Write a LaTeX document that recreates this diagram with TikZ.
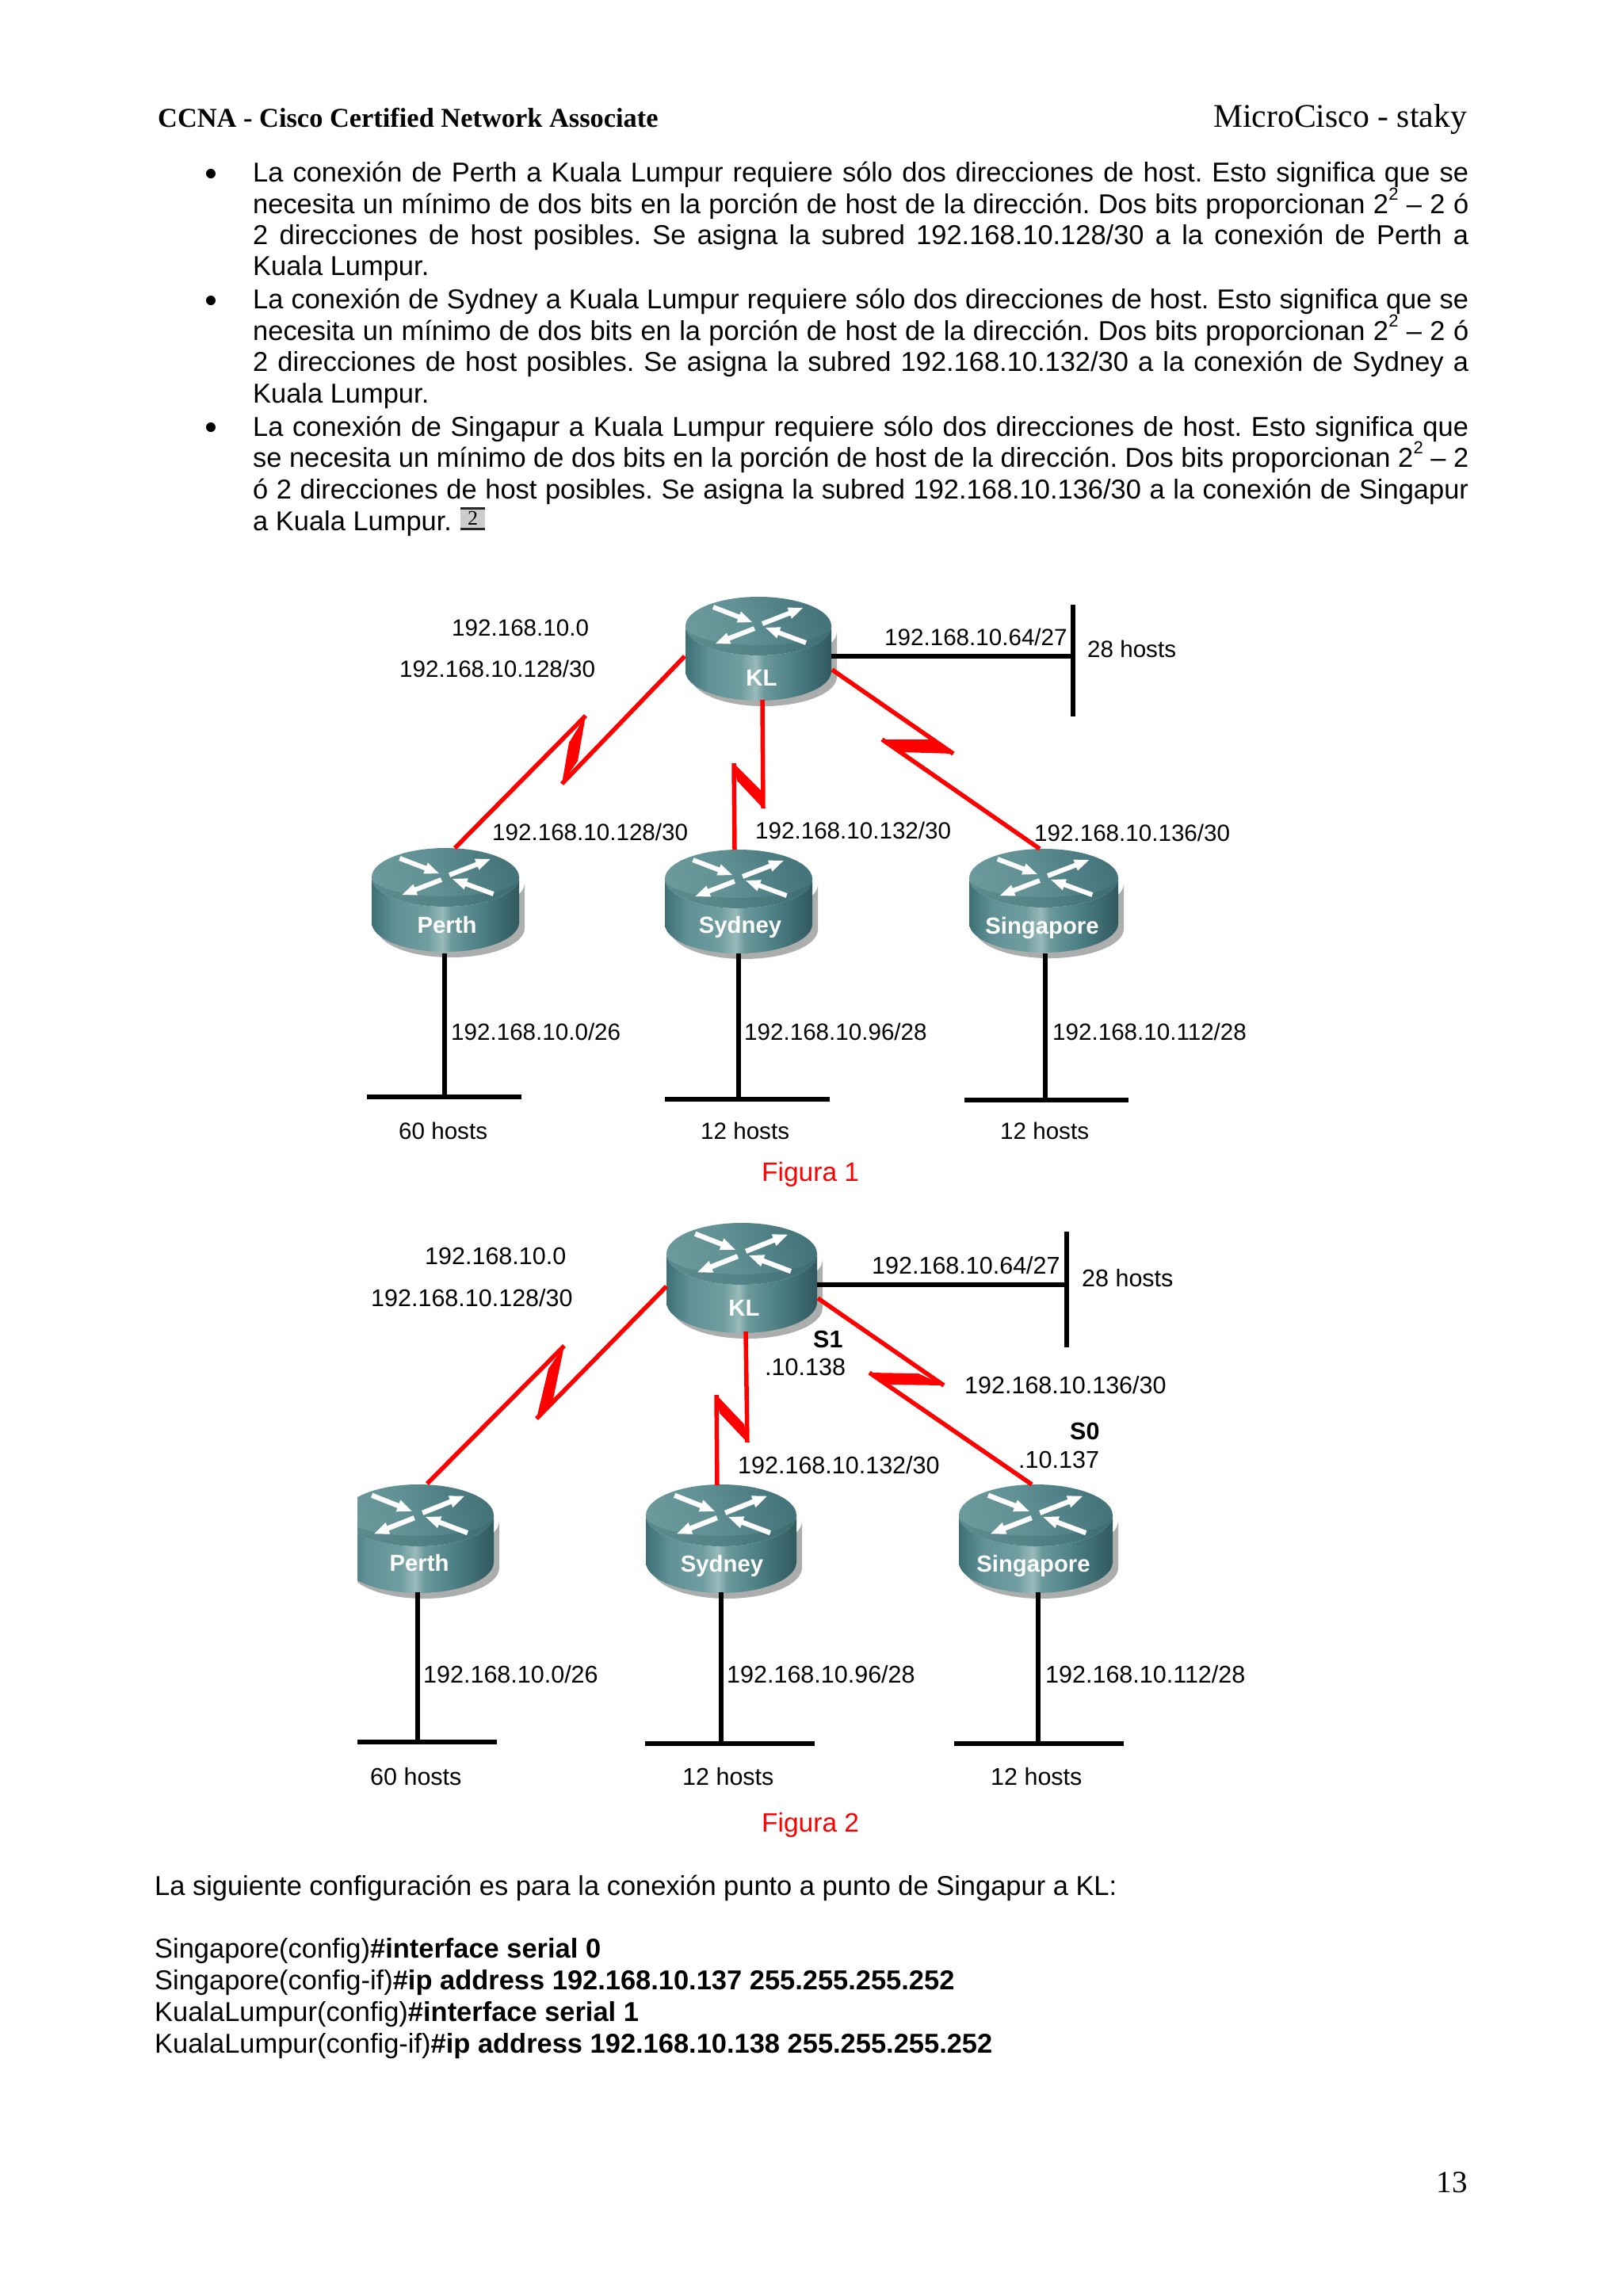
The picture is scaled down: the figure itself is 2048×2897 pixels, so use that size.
\documentclass[tikz,border=0pt]{standalone}
\usepackage{fontspec}
\setmainfont{Liberation Sans}
\newfontfamily\timesf{Liberation Serif}
\pgfdeclarehorizontalshading{routerside}{100bp}{
 rgb(0bp)=(.24,.44,.46);
 rgb(25bp)=(.24,.44,.46);
 rgb(33bp)=(.38,.57,.59);
 rgb(44bp)=(.44,.62,.63);
 rgb(49bp)=(.60,.73,.73);
 rgb(52bp)=(.42,.60,.61);
 rgb(62bp)=(.30,.50,.52);
 rgb(75bp)=(.19,.35,.37);
 rgb(100bp)=(.19,.35,.37)}
\pgfdeclarehorizontalshading{routertop}{100bp}{
 rgb(0bp)=(.42,.60,.61);
 rgb(25bp)=(.42,.60,.61);
 rgb(45bp)=(.38,.57,.58);
 rgb(60bp)=(.32,.51,.53);
 rgb(75bp)=(.27,.46,.48);
 rgb(100bp)=(.27,.46,.48)}
\definecolor{rshadow}{RGB}{172,174,174}
\definecolor{rfront}{RGB}{40,85,90}
\tikzset{
 bodytext/.style={anchor=base west,inner sep=0pt,font=\fontsize{34.45}{40}\selectfont},
 lab/.style={anchor=base west,inner sep=0pt,font=\fontsize{29.6}{34}\selectfont},
 labb/.style={anchor=base west,inner sep=0pt,font=\fontsize{30.5}{34}\selectfont},
 labbold/.style={anchor=base west,inner sep=0pt,font=\fontsize{30.5}{34}\selectfont\bfseries},
 fig/.style={anchor=base west,inner sep=0pt,text=red,font=\fontsize{33.5}{40}\selectfont},
 rlabel/.style={inner sep=0pt,text=white,font=\fontsize{29.3}{34}\selectfont\bfseries},
 lan/.style={draw=black,line width=5.2pt},
 serial/.style={draw=red,line width=5.5pt},
 wedge/.style={fill=red,draw=none},
 arrowpoly/.style={fill=white,draw=none}
}
% #1 name, #2 cx, #3 yc, #4 rx, #5 ry, #6 h, #7 label, #8 lx, #9 ly
\newcommand{\router}[9]{%
 \begin{scope}[shift={(#2+7,#3+7)}]
  \fill[rshadow] (-#4,0) -- (-#4,#6) arc[start angle=180,end angle=0,x radius=#4,y radius=#5] -- (#4,0) arc[start angle=0,end angle=180,x radius=#4,y radius=#5] -- cycle;
 \end{scope}
 \begin{scope}[shift={(#2,#3)}]
  \shade[shading=routerside] (-#4,0) -- (-#4,#6) arc[start angle=180,end angle=0,x radius=#4,y radius=#5] -- (#4,0) arc[start angle=0,end angle=180,x radius=#4,y radius=#5] -- cycle;
  \shade[shading=routertop,shading angle=20] (0,0) ellipse[x radius=#4,y radius=#5];
  \fill[rfront,opacity=.22] (-#4,0) arc[start angle=180,end angle=0,x radius=#4,y radius=#5] arc[start angle=0,end angle=180,x radius=#4,y radius=#5-13] -- cycle;
  \begin{scope}[xscale=#4/92,yscale=#5/37]
   \fill[arrowpoly] (-55.9,-26.8)--(-23.6,-14.3)--(-22,-18.5)--(-8,-5)--(-27.4,-4.5)--(-25.8,-8.7)--(-58.1,-21.2)--cycle;
   \fill[arrowpoly] (3.9,-5.8)--(38.2,-19.2)--(36.6,-23.4)--(56,-23)--(42,-9.4)--(40.4,-13.6)--(6.1,-.2)--cycle;
   \fill[arrowpoly] (-6.1,.2)--(-38.4,12.7)--(-40,8.5)--(-54,22)--(-34.6,22.5)--(-36.2,18.3)--(-3.9,5.8)--cycle;
   \fill[arrowpoly] (9,2)--(28.5,1.3)--(26.9,5.5)--(61,18.2)--(59,23.8)--(24.9,11.1)--(23.3,15.3)--cycle;
  \end{scope}
 \end{scope}
 \node[rlabel] (#1) at (#8,#9) {#7};
}
% serial link with lightning bolt: #1 a, #2 tip1, #3 shoulder1, #4 tip2, #5 shoulder2, #6 b
\newcommand{\seriallink}[6]{%
 \fill[wedge] (#2) -- (#3) -- (#4) -- (#5) -- cycle;
 \draw[serial] (#1) -- (#2);
 \draw[serial] (#4) -- (#6);
}
\newcommand{\supII}{\raisebox{17pt}{\fontsize{22}{24}\selectfont 2}}
\newcommand{\jl}[1]{\makebox[1534pt][s]{#1}}
\frenchspacing
\begin{document}
\begin{tikzpicture}[x=1pt,y=-1pt]
\useasboundingbox (0,0) rectangle (2048,2897);
\fill[white] (0,0) rectangle (2048,2897);

% header
\node[anchor=base west,inner sep=0pt,font=\timesf\bfseries\fontsize{34.4}{40}\selectfont] (hl) at (199,160) {CCNA - Cisco Certified Network Associate};
\node[anchor=base west,inner sep=0pt,font=\timesf\fontsize{41.7}{46}\selectfont] (hr) at (1531,160) {MicroCisco - staky};

% bullets
\fill (266,219) circle (6);
\fill (266,379) circle (6);
\fill (266,539) circle (6);

% body
\node[bodytext] (b1) at (319,229) {\jl{La conexión de Perth a Kuala Lumpur requiere sólo dos direcciones de host. Esto significa que se}};
\node[bodytext] (b2) at (319,269) {\jl{necesita un mínimo de dos bits en la porción de host de la dirección. Dos bits proporcionan 2\supII{} – 2 ó}};
\node[bodytext] (b3) at (319,308) {\jl{2 direcciones de host posibles. Se asigna la subred 192.168.10.128/30 a la conexión de Perth a}};
\node[bodytext] (b4) at (319,347) {Kuala Lumpur.};
\node[bodytext] (b5) at (319,389) {\jl{La conexión de Sydney a Kuala Lumpur requiere sólo dos direcciones de host. Esto significa que se}};
\node[bodytext] (b6) at (319,429) {\jl{necesita un mínimo de dos bits en la porción de host de la dirección. Dos bits proporcionan 2\supII{} – 2 ó}};
\node[bodytext] (b7) at (319,468) {\jl{2 direcciones de host posibles. Se asigna la subred 192.168.10.132/30 a la conexión de Sydney a}};
\node[bodytext] (b8) at (319,508) {Kuala Lumpur.};
\node[bodytext] (b9) at (319,550) {\jl{La conexión de Singapur a Kuala Lumpur requiere sólo dos direcciones de host. Esto significa que}};
\node[bodytext] (b10) at (319,589) {\jl{se necesita un mínimo de dos bits en la porción de host de la dirección. Dos bits proporcionan 2\supII{} – 2}};
\node[bodytext] (b11) at (319,629) {\jl{ó 2 direcciones de host posibles. Se asigna la subred 192.168.10.136/30 a la conexión de Singapur}};
\node[bodytext] (b12) at (319,669) {a Kuala Lumpur.};
\fill[black!20] (581,640) rectangle (612,669);
\fill[black!85] (581,640) rectangle (612,643);
\fill[black!85] (581,666) rectangle (612,669);
\node[inner sep=0pt,font=\timesf\fontsize{26}{28}\selectfont] (ref) at (596.5,654) {2};

% ---------- Figure 1 ----------
\router{klA}{957}{790}{92}{37}{57}{KL}{961}{855}
\router{peA}{562}{1107}{93}{37}{57}{Perth}{564}{1167}
\router{syA}{932}{1109}{93}{37}{57}{Sydney}{934}{1170}
\router{siA}{1317}{1108}{94}{37}{57}{Singapore}{1315}{1171}

\coordinate (klAw) at (864,828);
\coordinate (klAs) at (962,883);
\coordinate (klAe) at (1049,828);
\coordinate (klAse) at (1050,845);
\coordinate (peAn) at (574,1070);
\coordinate (syAn) at (927,1072);
\coordinate (siAn) at (1312,1071);
\coordinate (peAs) at (561,1203);
\coordinate (syAs) at (932,1203);
\coordinate (siAs) at (1319,1203);
\coordinate (barAt) at (1354,763);
\coordinate (barAb) at (1354,904);
\coordinate (barAm) at (1354,828);

\draw[lan] (klAe) -- (barAm);
\draw[lan] (barAt) -- (barAb);
\seriallink{peAn}{739,903}{718,937}{709,989}{729,960}{klAw}
\seriallink{klAs}{963,1020}{960,997}{926,963}{930,985}{syAn}
\seriallink{klAse}{1203,951}{1178,933}{1113,933}{1138,949}{siAn}
\draw[lan] (peAs) -- (561,1384);
\draw[lan] (463,1384) -- (658,1384);
\draw[lan] (syAs) -- (932,1387);
\draw[lan] (839,1387) -- (1047,1387);
\draw[lan] (siAs) -- (1319,1388);
\draw[lan] (1217,1388) -- (1424,1388);

\node[lab] (a1) at (570,802) {192.168.10.0};
\node[lab] (a2) at (504,854) {192.168.10.128/30};
\node[lab] (a3) at (621,1060) {192.168.10.128/30};
\node[lab] (a4) at (953,1058) {192.168.10.132/30};
\node[lab] (a5) at (1305,1061) {192.168.10.136/30};
\node[lab] (a6) at (1116,814) {192.168.10.64/27};
\node[lab] (a7) at (1372,829) {28 hosts};
\node[lab] (a8) at (569,1312) {192.168.10.0/26};
\node[lab] (a9) at (939,1312) {192.168.10.96/28};
\node[lab] (a10) at (1328,1312) {192.168.10.112/28};
\node[lab] (a11) at (503,1437) {60 hosts};
\node[lab] (a12) at (884,1437) {12 hosts};
\node[lab] (a13) at (1262,1437) {12 hosts};
\node[fig] (f1) at (961,1490) {Figura 1};

% ---------- Figure 2 ----------
\router{klB}{936}{1582}{95}{39}{61}{KL}{939}{1650}
\begin{scope}
 \clip (451,1850) rectangle (700,2050);
 \router{peB}{528}{1912}{95}{39}{59}{Perth}{529}{1972}
\end{scope}
\router{syB}{910}{1912}{95}{39}{59}{Sydney}{911}{1976}
\router{siB}{1307}{1912}{97}{39}{59}{Singapore}{1304}{1976}

\coordinate (klBw) at (841,1623);
\coordinate (klBs) at (941,1680);
\coordinate (klBe) at (1031,1621);
\coordinate (klBse) at (1032,1638);
\coordinate (peBn) at (539,1872);
\coordinate (syBn) at (905,1874);
\coordinate (siBn) at (1302,1873);
\coordinate (peBs) at (527,2009);
\coordinate (syBs) at (910,2009);
\coordinate (siBs) at (1310,2009);
\coordinate (barBt) at (1346,1554);
\coordinate (barBb) at (1346,1700);
\coordinate (barBm) at (1346,1621);

\draw[lan] (klBe) -- (barBm);
\draw[lan] (barBt) -- (barBb);
\seriallink{peBn}{712,1698}{692,1727}{677,1790}{698,1765}{klBw}
\seriallink{klBs}{943,1820}{939,1797}{904,1760}{908,1783}{syBn}
\seriallink{klBse}{1191,1748}{1159,1733}{1097,1732}{1124,1747}{siBn}
\draw[lan] (peBs) -- (527,2198);
\draw[lan] (451,2198) -- (627,2198);
\draw[lan] (syBs) -- (910,2200);
\draw[lan] (814,2200) -- (1028,2200);
\draw[lan] (siBs) -- (1310,2200);
\draw[lan] (1204,2200) -- (1418,2200);

\node[labb] (c1) at (536,1595) {192.168.10.0};
\node[labb] (c2) at (468,1648) {192.168.10.128/30};
\node[labb] (c3) at (1100,1607) {192.168.10.64/27};
\node[labb] (c4) at (1365,1623) {28 hosts};
\node[labbold] (c5) at (1026,1700) {S1};
\node[labb] (c6) at (965,1735) {.10.138};
\node[labb] (c7) at (1217,1758) {192.168.10.136/30};
\node[labbold] (c8) at (1350,1816) {S0};
\node[labb] (c9) at (1285,1852) {.10.137};
\node[labb] (c10) at (931,1859) {192.168.10.132/30};
\node[labb] (c11) at (534,2123) {192.168.10.0/26};
\node[labb] (c12) at (917,2123) {192.168.10.96/28};
\node[labb] (c13) at (1319,2123) {192.168.10.112/28};
\node[labb] (c14) at (467,2252) {60 hosts};
\node[labb] (c15) at (861,2252) {12 hosts};
\node[labb] (c16) at (1250,2252) {12 hosts};
\node[fig] (f2) at (961,2311) {Figura 2};

% ---------- Bottom text ----------
\node[bodytext] (d1) at (195,2391) {La siguiente configuración es para la conexión punto a punto de Singapur a KL:};
\node[bodytext] (d2) at (195,2470) {Singapore(config)\textbf{\#interface serial 0}};
\node[bodytext] (d3) at (195,2510) {Singapore(config-if)\textbf{\#ip address 192.168.10.137 255.255.255.252}};
\node[bodytext] (d4) at (195,2550) {KualaLumpur(config)\textbf{\#interface serial 1}};
\node[bodytext] (d5) at (195,2590) {KualaLumpur(config-if)\textbf{\#ip address 192.168.10.138 255.255.255.252}};

\node[anchor=base east,inner sep=0pt,font=\timesf\fontsize{39}{44}\selectfont] (pg) at (1852,2766) {13};
\end{tikzpicture}
\end{document}
